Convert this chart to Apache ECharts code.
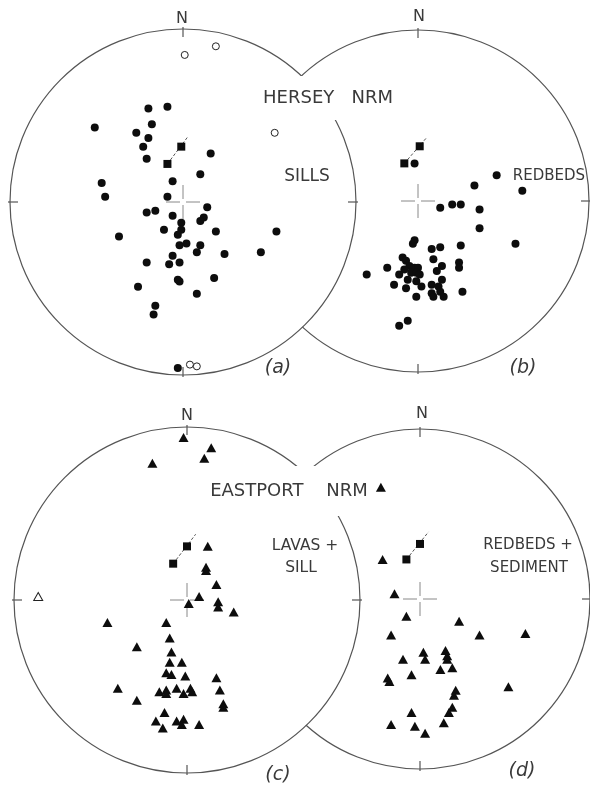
<!DOCTYPE html>
<html>
<head>
<meta charset="utf-8">
<script src="https://cdn.jsdelivr.net/npm/echarts@6/dist/echarts.min.js"></script>
<style>
  html, body { margin: 0; padding: 0; background: #fff; }
  #chart { width: 590px; height: 786px; }
</style>
</head>
<body>
<div id="chart"></div>
<script>
// Directions on equal-area nets, in percent of the net radius (x = east, y = north).

// (a) Hersey sills
const sillsLower = [[-20,54],[-9,55],[-51,43],[-18,45],[-27,40],[-20,37],[-23,32],[-21,25],[16,28],[-47,11],[-6,12],[10,16],[-45,3],[-9,3],[-21,-6],[-16,-5],[-6,-8],[-1,-12],[-11,-16],[-1,-16],[-3,-19],[-37,-20],[14,-3],[12,-9],[10,-11],[19,-17],[54,-17],[-2,-25],[2,-24],[10,-25],[8,-29],[-6,-31],[24,-30],[45,-29],[-21,-35],[-8,-36],[-2,-35],[-3,-45],[-2,-46],[18,-44],[-26,-49],[8,-53],[-16,-60],[-17,-65],[-3,-96]];
const sillsUpper = [[1,85],[19,90],[53,40],[4,-94],[8,-95]];
const sillsMeans = [[-1,32],[-9,22]];
const sillsTrail = [[-9,22],[3,38]];

// (b) Hersey redbeds
const redbedsLower = [[-2,22],[46,15],[33,9],[61,6],[13,-4],[20,-2],[25,-2],[36,-5],[36,-16],[57,-25],[-2,-23],[-3,-25],[8,-28],[13,-27],[25,-26],[-9,-33],[-7,-35],[9,-34],[24,-36],[24,-39],[14,-38],[11,-41],[-5,-38],[-2,-39],[0,-39],[-4,-42],[-1,-42],[1,-43],[-8,-40],[-11,-43],[-18,-39],[-6,-46],[-1,-47],[2,-50],[-14,-49],[14,-46],[8,-49],[12,-50],[-7,-51],[26,-53],[8,-54],[13,-53],[15,-56],[9,-56],[-1,-56],[-11,-73],[-6,-70],[-30,-43]];
const redbedsMeans = [[1,32],[-8,22]];
const redbedsTrail = [[-8,22],[5,37]];

// (c) Eastport lavas + sill
const lavasLower = [[-2,94],[-20,79],[14,88],[10,82],[12,31],[11,19],[11,17],[17,9],[1,-2],[7,2],[18,-1],[18,-4],[27,-7],[-46,-13],[-12,-13],[-10,-22],[-29,-27],[-9,-30],[-10,-36],[-3,-36],[-12,-42],[-9,-43],[-1,-44],[-40,-51],[-16,-53],[-12,-52],[-12,-54],[-6,-51],[-2,-54],[2,-51],[3,-53],[-29,-58],[-13,-65],[-18,-70],[-14,-74],[-6,-70],[-2,-69],[-3,-72],[7,-72],[17,-45],[19,-52],[21,-60],[21,-62]];
const lavasUpper = [[-86,2]];
const lavasMeans = [[0,31],[-8,21]];
const lavasTrail = [[-8,21],[5,38]];

// (d) Eastport redbeds + sediment
const sedimentLower = [[-23,65],[-22,23],[-15,3],[-8,-10],[23,-13],[35,-21],[62,-20],[-17,-21],[2,-31],[3,-35],[15,-30],[16,-33],[16,-35],[19,-40],[-10,-35],[12,-41],[-5,-44],[-19,-46],[-18,-48],[52,-51],[21,-53],[20,-56],[19,-63],[17,-66],[-5,-66],[-17,-73],[-3,-74],[14,-72],[3,-78]];
const sedimentMeans = [[0,32],[-8,23]];
const sedimentTrail = [[-8,23],[5,39]];

// Net placement on the page (pixels): centre and radius
const nets = [
  { cx: 183, cy: 202, r: 173, ticks: [0, 90, 180, 270], fill: '#fff', z: 2 },
  { cx: 418, cy: 201, r: 171, ticks: [0, 90, 180],      fill: 'none', z: 1 },
  { cx: 187, cy: 600, r: 173, ticks: [0, 90, 180, 270], fill: '#fff', z: 2 },
  { cx: 422, cy: 599, r: 172, ticks: [0, 90, 180],      fill: 'none', z: 1 }
];

const INK = '#0d0d0d';
const RIM = '#555';
const FONT = '"DejaVu Sans", sans-serif';

function outlineSeries(i) {
  const n = nets[i];
  return {
    type: 'custom', xAxisIndex: i, yAxisIndex: i, z: n.z, silent: true,
    data: [[0, 0]],
    renderItem(params, api) {
      const c = api.coord([0, 0]);
      const r = api.size([100, 0])[0];
      const kids = [{
        type: 'circle', shape: { cx: c[0], cy: c[1], r: r },
        style: { fill: n.fill, stroke: RIM, lineWidth: 1.2 }
      }];
      n.ticks.forEach(function (a) {
        const dx = Math.sin(a * Math.PI / 180), dy = -Math.cos(a * Math.PI / 180);
        kids.push({
          type: 'line',
          shape: { x1: c[0] + dx * (r + 2), y1: c[1] + dy * (r + 2), x2: c[0] + dx * (r - 8), y2: c[1] + dy * (r - 8) },
          style: { stroke: RIM, lineWidth: 1.2 }
        });
      });
      return { type: 'group', children: kids };
    }
  };
}

function centreCross(i) {
  return {
    type: 'custom', xAxisIndex: i, yAxisIndex: i, z: 3, silent: true,
    data: [[0, 0]],
    renderItem(params, api) {
      const c = api.coord([0, 0]);
      const g = 3, L = 17;
      const st = { stroke: '#888', lineWidth: 1 };
      return {
        type: 'group', children: [
          { type: 'line', shape: { x1: c[0] - L, y1: c[1], x2: c[0] - g, y2: c[1] }, style: st },
          { type: 'line', shape: { x1: c[0] + g, y1: c[1], x2: c[0] + L, y2: c[1] }, style: st },
          { type: 'line', shape: { x1: c[0], y1: c[1] - L, x2: c[0], y2: c[1] - g }, style: st },
          { type: 'line', shape: { x1: c[0], y1: c[1] + g, x2: c[0], y2: c[1] + L }, style: st }
        ]
      };
    }
  };
}

function pts(i, data, symbol, size, style) {
  return {
    type: 'scatter', xAxisIndex: i, yAxisIndex: i, z: 5, silent: true,
    symbol: symbol, symbolSize: size, data: data, itemStyle: style
  };
}

function trail(i, data) {
  return {
    type: 'line', xAxisIndex: i, yAxisIndex: i, z: 4, silent: true,
    data: data, symbol: 'none',
    lineStyle: { color: '#555', width: 1, type: [3, 2] }
  };
}

const filled = { color: INK, opacity: 1 };
const hollow = { color: '#fff', borderColor: '#222', borderWidth: 1, opacity: 1 };

const series = [];
nets.forEach(function (n, i) { series.push(outlineSeries(i), centreCross(i)); });
series.push(
  trail(0, sillsTrail), trail(1, redbedsTrail), trail(2, lavasTrail), trail(3, sedimentTrail),
  pts(0, sillsLower, 'circle', 8, filled),
  pts(0, sillsUpper, 'circle', 7, hollow),
  pts(0, sillsMeans, 'rect', 8, filled),
  pts(1, redbedsLower, 'circle', 8, filled),
  pts(1, redbedsMeans, 'rect', 8, filled),
  pts(2, lavasLower, 'triangle', [10, 9], filled),
  pts(2, lavasUpper, 'triangle', [9, 8], hollow),
  pts(2, lavasMeans, 'rect', 8, filled),
  pts(3, sedimentLower, 'triangle', [10, 9], filled),
  pts(3, sedimentMeans, 'rect', 8, filled)
);

function label(text, x, y, size, extra) {
  return {
    type: 'text', z: 100, silent: true,
    style: Object.assign({
      text: text, x: x, y: y, font: size + 'px ' + FONT, fill: '#3a3a3a',
      align: 'center', verticalAlign: 'middle'
    }, extra || {})
  };
}

const graphic = [
  label('N', 182, 19, 16), label('N', 419, 17, 16),
  label('N', 187, 416, 16), label('N', 422, 414, 16),
  label('HERSEY   NRM', 328, 98, 18, { backgroundColor: '#fff', padding: [14, 6, 12, 6] }),
  label('SILLS', 307, 177, 17),
  label('REDBEDS', 549, 176, 15),
  label('EASTPORT    NRM', 289, 491, 18, { backgroundColor: '#fff', padding: [14, 6, 18, 6] }),
  label('LAVAS +', 305, 546, 15.5),
  label('SILL', 301, 568, 15.5),
  label('REDBEDS +', 528, 545, 15),
  label('SEDIMENT', 529, 568, 15),
  label('(a)', 278, 368, 19, { font: 'italic 19px ' + FONT }),
  label('(b)', 523, 368, 19, { font: 'italic 19px ' + FONT }),
  label('(c)', 278, 775, 19, { font: 'italic 19px ' + FONT }),
  label('(d)', 522, 771, 19, { font: 'italic 19px ' + FONT })
];

const grids = nets.map(function (n) {
  return { left: n.cx - n.r, top: n.cy - n.r, width: 2 * n.r, height: 2 * n.r, containLabel: false };
});
const xAxes = nets.map(function (n, i) {
  return { type: 'value', gridIndex: i, min: -100, max: 100, show: false };
});
const yAxes = nets.map(function (n, i) {
  return { type: 'value', gridIndex: i, min: -100, max: 100, show: false };
});

const chart = echarts.init(document.getElementById('chart'), null, { renderer: 'canvas' });
chart.setOption({
  backgroundColor: '#fff',
  animation: false,
  grid: grids,
  xAxis: xAxes,
  yAxis: yAxes,
  series: series,
  graphic: graphic
});
</script>
</body>
</html>
